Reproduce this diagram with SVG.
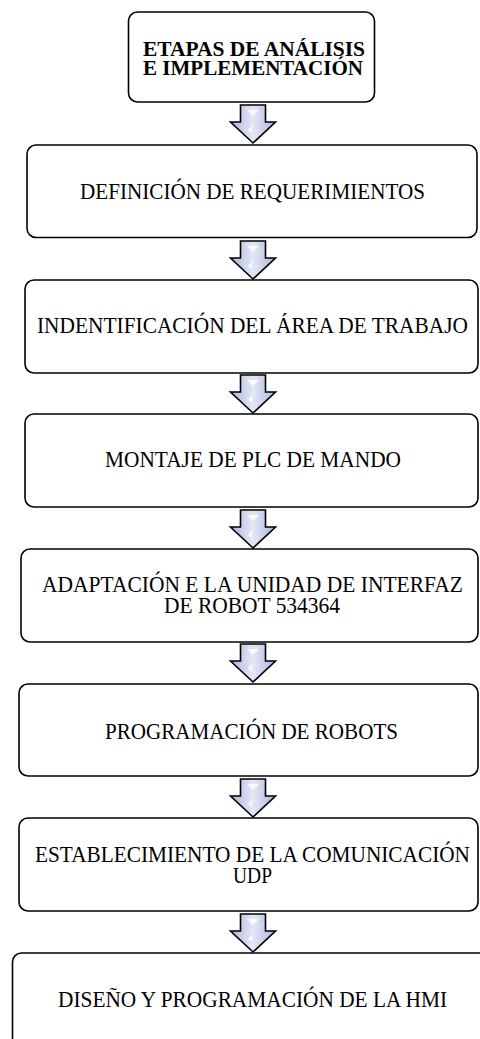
<svg xmlns="http://www.w3.org/2000/svg" width="480" height="1039" viewBox="0 0 480 1039">
<defs>
<linearGradient id="ag" x1="0" y1="0" x2="1" y2="0">
<stop offset="0" stop-color="#aab4dc"/>
<stop offset="0.5" stop-color="#e4e8f6"/>
<stop offset="1" stop-color="#aab4dc"/>
</linearGradient>
<path id="arr" d="M-12.5,0 H12.5 V17 H22.5 L0,38 L-22.5,17 H-12.5 Z"/>
</defs>
<style>
.box{fill:#ffffff;stroke:#000000;stroke-width:1.6}
.t{font-family:"Liberation Serif","Times New Roman",serif;font-size:23.5px;fill:#000000;text-anchor:middle}
.tb{font-family:"Liberation Serif","Times New Roman",serif;font-size:20.5px;font-weight:bold;fill:#000000;text-anchor:middle}
.arrow{fill:url(#ag);stroke:#000000;stroke-width:1.6;stroke-linejoin:miter}
.hl{fill:#ffffff;opacity:0.85}
</style>
<rect width="480" height="1039" fill="#ffffff"/>
<g id="connectors">
<g transform="translate(253,105)"><use href="#arr" class="arrow"/><path class="hl" d="M-6,5 H6 L0,11 Z"/><path class="hl" d="M-1,20 L-5,25 L-1,28 Z"/></g>
<g transform="translate(253,241)"><use href="#arr" class="arrow"/><path class="hl" d="M-6,5 H6 L0,11 Z"/><path class="hl" d="M-1,20 L-5,25 L-1,28 Z"/></g>
<g transform="translate(253,375)"><use href="#arr" class="arrow"/><path class="hl" d="M-6,5 H6 L0,11 Z"/><path class="hl" d="M-1,20 L-5,25 L-1,28 Z"/></g>
<g transform="translate(253,510)"><use href="#arr" class="arrow"/><path class="hl" d="M-6,5 H6 L0,11 Z"/><path class="hl" d="M-1,20 L-5,25 L-1,28 Z"/></g>
<g transform="translate(253,644)"><use href="#arr" class="arrow"/><path class="hl" d="M-6,5 H6 L0,11 Z"/><path class="hl" d="M-1,20 L-5,25 L-1,28 Z"/></g>
<g transform="translate(253,779)"><use href="#arr" class="arrow"/><path class="hl" d="M-6,5 H6 L0,11 Z"/><path class="hl" d="M-1,20 L-5,25 L-1,28 Z"/></g>
<g transform="translate(253,914)"><use href="#arr" class="arrow"/><path class="hl" d="M-6,5 H6 L0,11 Z"/><path class="hl" d="M-1,20 L-5,25 L-1,28 Z"/></g>
</g>
<g id="n0"><rect class="box" x="128.5" y="12" width="246" height="90" rx="9"/><text class="tb" x="254" y="56" textLength="222" lengthAdjust="spacingAndGlyphs">ETAPAS DE ANÁLISIS</text><text class="tb" x="253" y="75" textLength="220" lengthAdjust="spacingAndGlyphs">E IMPLEMENTACIÓN</text></g>
<g id="n1"><rect class="box" x="27" y="145" width="450" height="92.5" rx="9"/><text class="t" x="252.5" y="199" textLength="345" lengthAdjust="spacingAndGlyphs">DEFINICIÓN DE REQUERIMIENTOS</text></g>
<g id="n2"><rect class="box" x="25" y="280" width="453" height="93" rx="9"/><text class="t" x="252.5" y="333" textLength="431" lengthAdjust="spacingAndGlyphs">INDENTIFICACIÓN DEL ÁREA DE TRABAJO</text></g>
<g id="n3"><rect class="box" x="25" y="414" width="453" height="93" rx="9"/><text class="t" x="253" y="467" textLength="296" lengthAdjust="spacingAndGlyphs">MONTAJE DE PLC DE MANDO</text></g>
<g id="n4"><rect class="box" x="21" y="549" width="457" height="93" rx="9"/><text class="t" x="252.5" y="592" textLength="421" lengthAdjust="spacingAndGlyphs">ADAPTACIÓN E LA UNIDAD DE INTERFAZ</text><text class="t" x="252" y="613" textLength="176" lengthAdjust="spacingAndGlyphs">DE ROBOT 534364</text></g>
<g id="n5"><rect class="box" x="19" y="684" width="459" height="92" rx="9"/><text class="t" x="251.5" y="739" textLength="293" lengthAdjust="spacingAndGlyphs">PROGRAMACIÓN  DE ROBOTS</text></g>
<g id="n6"><rect class="box" x="19" y="818" width="459" height="93" rx="9"/><text class="t" x="252.5" y="862" textLength="435" lengthAdjust="spacingAndGlyphs">ESTABLECIMIENTO  DE LA COMUNICACIÓN</text><text class="t" x="252.5" y="883" textLength="39" lengthAdjust="spacingAndGlyphs">UDP</text></g>
<g id="n7"><rect class="box" x="12.5" y="953" width="480" height="120" rx="9"/><text class="t" x="252.5" y="1007" textLength="389" lengthAdjust="spacingAndGlyphs">DISEÑO Y PROGRAMACIÓN  DE LA HMI</text></g>
</svg>
